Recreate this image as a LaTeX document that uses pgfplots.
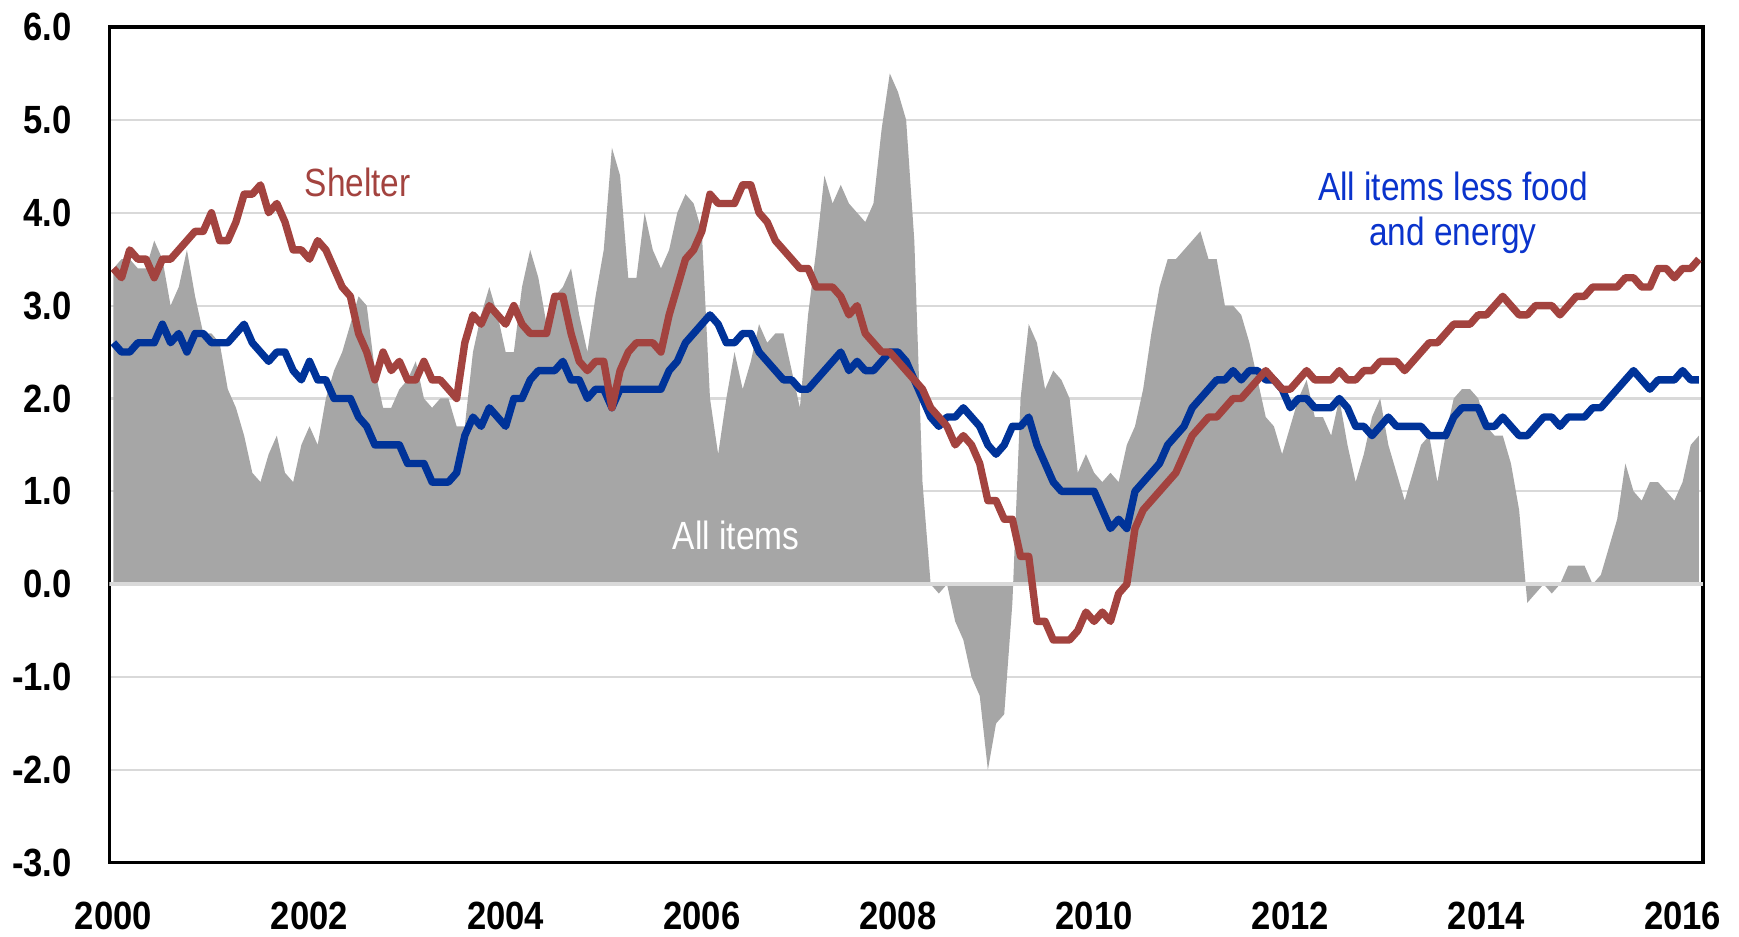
\documentclass[border=0pt]{standalone}
\usepackage{fontspec}
\setmainfont{Liberation Sans}
\newfontfamily\narrowtick[FakeStretch=0.88]{Liberation Sans}
\newfontfamily\narrowtext[FakeStretch=0.85]{Liberation Sans}
\usepackage{pgfplots}
\usepackage{pgfplotstable}
\pgfplotsset{compat=1.18}

\definecolor{shelterc}{HTML}{A3433F}
\definecolor{corec}{HTML}{003399}
\definecolor{coretxt}{HTML}{0A33CC}
\definecolor{allc}{HTML}{A6A6A6}
\definecolor{gridc}{HTML}{D9D9D9}

% 12-month percent change, monthly; m = month index (0 = first point)
\pgfplotstableread{
m all core shelter
0 3.4 2.6 3.4
1 3.5 2.5 3.3
2 3.5 2.5 3.6
3 3.4 2.6 3.5
4 3.4 2.6 3.5
5 3.7 2.6 3.3
6 3.5 2.8 3.5
7 3.0 2.6 3.5
8 3.2 2.7 3.6
9 3.6 2.5 3.7
10 3.1 2.7 3.8
11 2.7 2.7 3.8
12 2.7 2.6 4.0
13 2.6 2.6 3.7
14 2.1 2.6 3.7
15 1.9 2.7 3.9
16 1.6 2.8 4.2
17 1.2 2.6 4.2
18 1.1 2.5 4.3
19 1.4 2.4 4.0
20 1.6 2.5 4.1
21 1.2 2.5 3.9
22 1.1 2.3 3.6
23 1.5 2.2 3.6
24 1.7 2.4 3.5
25 1.5 2.2 3.7
26 2.0 2.2 3.6
27 2.3 2.0 3.4
28 2.5 2.0 3.2
29 2.8 2.0 3.1
30 3.1 1.8 2.7
31 3.0 1.7 2.5
32 2.3 1.5 2.2
33 1.9 1.5 2.5
34 1.9 1.5 2.3
35 2.1 1.5 2.4
36 2.2 1.3 2.2
37 2.4 1.3 2.2
38 2.0 1.3 2.4
39 1.9 1.1 2.2
40 2.0 1.1 2.2
41 2.0 1.1 2.1
42 1.7 1.2 2.0
43 1.7 1.6 2.6
44 2.5 1.8 2.9
45 2.9 1.7 2.8
46 3.2 1.9 3.0
47 2.9 1.8 2.9
48 2.5 1.7 2.8
49 2.5 2.0 3.0
50 3.2 2.0 2.8
51 3.6 2.2 2.7
52 3.3 2.3 2.7
53 2.8 2.3 2.7
54 3.1 2.3 3.1
55 3.2 2.4 3.1
56 3.4 2.2 2.7
57 2.9 2.2 2.4
58 2.5 2.0 2.3
59 3.1 2.1 2.4
60 3.6 2.1 2.4
61 4.7 1.9 1.9
62 4.4 2.1 2.3
63 3.3 2.1 2.5
64 3.3 2.1 2.6
65 4.0 2.1 2.6
66 3.6 2.1 2.6
67 3.4 2.1 2.5
68 3.6 2.3 2.9
69 4.0 2.4 3.2
70 4.2 2.6 3.5
71 4.1 2.7 3.6
72 3.8 2.8 3.8
73 2.0 2.9 4.2
74 1.4 2.8 4.1
75 2.0 2.6 4.1
76 2.5 2.6 4.1
77 2.1 2.7 4.3
78 2.4 2.7 4.3
79 2.8 2.5 4.0
80 2.6 2.4 3.9
81 2.7 2.3 3.7
82 2.7 2.2 3.6
83 2.3 2.2 3.5
84 1.9 2.1 3.4
85 2.9 2.1 3.4
86 3.6 2.2 3.2
87 4.4 2.3 3.2
88 4.1 2.4 3.2
89 4.3 2.5 3.1
90 4.1 2.3 2.9
91 4.0 2.4 3.0
92 3.9 2.3 2.7
93 4.1 2.3 2.6
94 4.9 2.4 2.5
95 5.5 2.5 2.5
96 5.3 2.5 2.4
97 5.0 2.4 2.3
98 3.7 2.2 2.2
99 1.1 2.0 2.1
100 0.0 1.8 1.9
101 -0.1 1.7 1.8
102 0.0 1.8 1.7
103 -0.4 1.8 1.5
104 -0.6 1.9 1.6
105 -1.0 1.8 1.5
106 -1.2 1.7 1.3
107 -2.0 1.5 0.9
108 -1.5 1.4 0.9
109 -1.4 1.5 0.7
110 -0.2 1.7 0.7
111 2.0 1.7 0.3
112 2.8 1.8 0.3
113 2.6 1.5 -0.4
114 2.1 1.3 -0.4
115 2.3 1.1 -0.6
116 2.2 1.0 -0.6
117 2.0 1.0 -0.6
118 1.2 1.0 -0.5
119 1.4 1.0 -0.3
120 1.2 1.0 -0.4
121 1.1 0.8 -0.3
122 1.2 0.6 -0.4
123 1.1 0.7 -0.1
124 1.5 0.6 0.0
125 1.7 1.0 0.6
126 2.1 1.1 0.8
127 2.7 1.2 0.9
128 3.2 1.3 1.0
129 3.5 1.5 1.1
130 3.5 1.6 1.2
131 3.6 1.7 1.4
132 3.7 1.9 1.6
133 3.8 2.0 1.7
134 3.5 2.1 1.8
135 3.5 2.2 1.8
136 3.0 2.2 1.9
137 3.0 2.3 2.0
138 2.9 2.2 2.0
139 2.6 2.3 2.1
140 2.2 2.3 2.2
141 1.8 2.2 2.3
142 1.7 2.2 2.2
143 1.4 2.1 2.1
144 1.7 1.9 2.1
145 2.0 2.0 2.2
146 2.2 2.0 2.3
147 1.8 1.9 2.2
148 1.8 1.9 2.2
149 1.6 1.9 2.2
150 2.0 2.0 2.3
151 1.5 1.9 2.2
152 1.1 1.7 2.2
153 1.4 1.7 2.3
154 1.8 1.6 2.3
155 2.0 1.7 2.4
156 1.5 1.8 2.4
157 1.2 1.7 2.4
158 0.9 1.7 2.3
159 1.2 1.7 2.4
160 1.5 1.7 2.5
161 1.6 1.6 2.6
162 1.1 1.6 2.6
163 1.6 1.6 2.7
164 2.0 1.8 2.8
165 2.1 1.9 2.8
166 2.1 1.9 2.8
167 2.0 1.9 2.9
168 1.7 1.7 2.9
169 1.6 1.7 3.0
170 1.6 1.8 3.1
171 1.3 1.7 3.0
172 0.8 1.6 2.9
173 -0.2 1.6 2.9
174 -0.1 1.7 3.0
175 0.0 1.8 3.0
176 -0.1 1.8 3.0
177 0.0 1.7 2.9
178 0.2 1.8 3.0
179 0.2 1.8 3.1
180 0.2 1.8 3.1
181 0.0 1.9 3.2
182 0.1 1.9 3.2
183 0.4 2.0 3.2
184 0.7 2.1 3.2
185 1.3 2.2 3.3
186 1.0 2.3 3.3
187 0.9 2.2 3.2
188 1.1 2.1 3.2
189 1.1 2.2 3.4
190 1.0 2.2 3.4
191 0.9 2.2 3.3
192 1.1 2.3 3.4
193 1.5 2.2 3.4
194 1.6 2.2 3.5
}\cpi

\begin{document}
\begin{tikzpicture}
\begin{axis}[
  name=ax,
  scale only axis,
  width=15.94cm, height=8.36cm,
  xmin=-0.5, xmax=194.5,
  ymin=-3, ymax=6,
  xtick={0,24,...,192},
  xticklabels={2000,2002,2004,2006,2008,2010,2012,2014,2016},
  ytick={-3,-2,...,6},
  yticklabels={-3.0,-2.0,-1.0,0.0,1.0,2.0,3.0,4.0,5.0,6.0},
  ymajorgrids,
  grid style={gridc, line width=0.6pt},
  major tick length=0pt,
  axis line style={black, line width=0.9pt},
  tick label style={font=\fontsize{11.2}{13}\narrowtick\bfseries},
  yticklabel style={xshift=-2.5mm},
  xticklabel style={inner ysep=0pt, yshift=-3.8mm},
]
  \addplot[fill=allc, draw=none] table[x=m, y=all] {\cpi} \closedcycle;
  \addplot[gridc, line width=1.2pt] coordinates {(-0.5,0) (194.5,0)};
  \addplot[corec, line width=2.1pt, line join=round] table[x=m, y=core] {\cpi};
  \addplot[shelterc, line width=2.1pt, line join=round] table[x=m, y=shelter] {\cpi};

  \node[text=shelterc, font=\fontsize{11.2}{13}\narrowtext] at (axis cs:29.9,4.33) {Shelter};
  \node[text=coretxt, align=center, font=\fontsize{11.2}{13}\narrowtext] at (axis cs:163.9,4.0) {All items less food\\and energy};
  \node[text=white, font=\fontsize{11.2}{13}\narrowtext] at (axis cs:76.2,0.53) {All items};
\end{axis}
\path ([xshift=-10.93mm,yshift=-7.4mm]ax.south west) rectangle ([xshift=3.6mm,yshift=2.7mm]ax.north east);
\end{tikzpicture}
\end{document}
